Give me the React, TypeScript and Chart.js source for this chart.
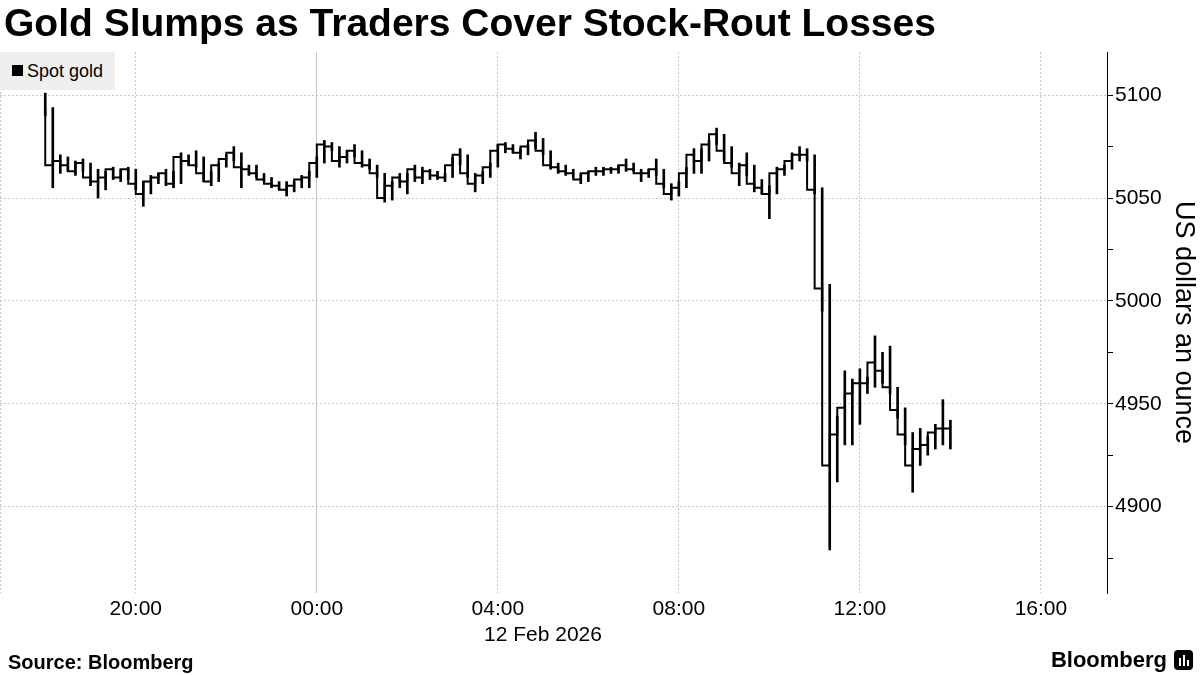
import React, { useEffect, useRef } from "react";
import { Chart, registerables } from "chart.js";

Chart.register(...registerables);

// Hours relative to 00:00 on 12 Feb 2026; bars are 10 minutes apart from 18:00 on 11 Feb
const START_HOUR = -6;
const BAR_HOURS = 1 / 6;

const highs = [
  5101, 5094, 5071, 5070, 5068, 5069, 5067, 5064, 5063, 5065,
  5064, 5065, 5064, 5058, 5061, 5062, 5064, 5063, 5072, 5071,
  5073, 5070, 5063, 5067, 5071, 5075, 5072, 5066, 5066, 5062,
  5060, 5058, 5058, 5058, 5061, 5063, 5070, 5078, 5077, 5075,
  5073, 5076, 5073, 5069, 5066, 5062, 5058, 5062, 5062, 5066,
  5065, 5064, 5063, 5062, 5070, 5074, 5071, 5062, 5063, 5067,
  5076, 5077, 5076, 5074, 5076, 5082, 5079, 5073, 5067, 5066,
  5064, 5062, 5063, 5065, 5065, 5065, 5066, 5069, 5067, 5064,
  5064, 5069, 5064, 5057, 5058, 5065, 5074, 5074, 5078, 5084,
  5081, 5075, 5067, 5072, 5066, 5059, 5056, 5065, 5066, 5072,
  5075, 5074, 5071, 5055, 5008, 4944, 4966, 4962, 4967, 4963,
  4983, 4975, 4978, 4958, 4948, 4936, 4938, 4934, 4940, 4952,
  4942,
];

const lows = [
  5090, 5055, 5062, 5063, 5061, 5063, 5056, 5050, 5054, 5059,
  5058, 5059, 5054, 5046, 5052, 5057, 5056, 5055, 5057, 5066,
  5065, 5058, 5056, 5058, 5065, 5068, 5055, 5061, 5060, 5058,
  5055, 5054, 5051, 5053, 5055, 5055, 5060, 5067, 5073, 5065,
  5067, 5070, 5065, 5064, 5060, 5048, 5049, 5055, 5052, 5058,
  5057, 5059, 5059, 5058, 5060, 5066, 5060, 5053, 5057, 5060,
  5065, 5072, 5072, 5069, 5071, 5074, 5071, 5064, 5062, 5061,
  5060, 5057, 5058, 5061, 5061, 5062, 5062, 5063, 5063, 5058,
  5060, 5061, 5055, 5049, 5051, 5055, 5062, 5062, 5068, 5076,
  5068, 5065, 5056, 5061, 5053, 5052, 5040, 5052, 5061, 5064,
  5068, 5068, 5052, 4995, 4879, 4912, 4930, 4930, 4940, 4955,
  4958, 4960, 4955, 4943, 4930, 4907, 4920, 4925, 4928, 4930,
  4928,
];

const closes = [
  5093, 5066, 5068, 5066, 5063, 5067, 5060, 5058, 5060, 5064,
  5060, 5064, 5057, 5052, 5058, 5060, 5062, 5057, 5070, 5068,
  5066, 5062, 5058, 5066, 5069, 5072, 5065, 5064, 5062, 5059,
  5057, 5056, 5054, 5056, 5059, 5060, 5067, 5076, 5075, 5068,
  5070, 5073, 5067, 5066, 5062, 5050, 5056, 5060, 5058, 5064,
  5060, 5063, 5061, 5060, 5066, 5071, 5062, 5057, 5061, 5065,
  5073, 5076, 5074, 5072, 5075, 5078, 5073, 5066, 5065, 5063,
  5062, 5059, 5062, 5063, 5063, 5064, 5064, 5066, 5064, 5062,
  5062, 5064, 5057, 5052, 5055, 5062, 5071, 5068, 5076, 5081,
  5073, 5067, 5062, 5066, 5057, 5055, 5052, 5062, 5064, 5068,
  5071, 5071, 5054, 5006, 4920, 4935, 4948, 4955, 4960, 4960,
  4970, 4966, 4958, 4947, 4935, 4920, 4928, 4930, 4936, 4938,
  4938,
];

const xTickHours = [-7, -4, 0, 4, 8, 12, 16];
const xTickLabels = ["", "20:00", "00:00", "04:00", "08:00", "12:00", "16:00"];
const dateLabel = "12 Feb 2026";
const yTickValues = [4875, 4900, 4925, 4950, 4975, 5000, 5025, 5050, 5075, 5100];

const X_MIN = -7;
const X_MAX = 17.46;
const Y_MIN = 4858;
const Y_MAX = 5121;

const FONT = "'Liberation Sans', Arial, sans-serif";
const GRID = "#c6c6c6";

export default function App() {
  const canvasRef = useRef<HTMLCanvasElement | null>(null);

  useEffect(() => {
    const canvas = canvasRef.current;
    if (!canvas) return;
    const times = closes.map((_, i) => START_HOUR + i * BAR_HOURS);
    const chart = new Chart(canvas, {
      type: "bar",
      data: {
        datasets: [
          {
            type: "line",
            data: closes.map((c, i) => ({ x: times[i], y: c })),
            borderColor: "#000",
            borderWidth: 2,
            stepped: "after",
            pointRadius: 0,
            fill: false,
            order: 0,
          } as any,
          {
            type: "bar",
            data: highs.map((h, i) => ({ x: times[i], y: [lows[i], h] })),
            backgroundColor: "#000",
            borderWidth: 0,
            barThickness: 2,
            grouped: false,
            order: 1,
          } as any,
        ],
      },
      options: {
        responsive: false,
        animation: false,
        layout: { padding: { top: 52, left: 0, right: 0, bottom: 0 } },
        plugins: {
          legend: { display: false },
          tooltip: { enabled: false },
          title: { display: false },
        },
        scales: {
          x: {
            type: "linear",
            min: X_MIN,
            max: X_MAX,
            offset: false,
            afterBuildTicks: (s: any) => {
              s.ticks = xTickHours.map((v) => ({ value: v }));
            },
            afterFit: (s: any) => {
              s.height = 82;
              s.paddingLeft = 0;
              s.paddingRight = 0;
            },
            grid: { color: GRID, lineWidth: 1, drawTicks: false, offset: false },
            border: {
              display: false,
              dash: (ctx: any) => (ctx.tick && ctx.tick.value === 0 ? [] : [2, 2]),
            },
            ticks: {
              callback: (_v: any, idx: number) => xTickLabels[idx],
              font: { family: FONT, size: 21 },
              color: "#000",
              padding: 4,
              maxRotation: 0,
              autoSkip: false,
            },
          },
          y: {
            position: "right",
            min: Y_MIN,
            max: Y_MAX,
            afterBuildTicks: (s: any) => {
              s.ticks = yTickValues.map((v) => ({ value: v }));
            },
            afterFit: (s: any) => {
              s.width = 93;
            },
            grid: {
              color: (ctx: any) => (ctx.tick && ctx.tick.value % 50 === 0 ? GRID : "rgba(0,0,0,0)"),
              tickColor: "#000",
              tickLength: 6,
              drawTicks: true,
              tickBorderDash: [],
            },
            border: { display: true, color: "#000", width: 1, dash: [2, 2] },
            ticks: {
              callback: (v: any) => (Number(v) % 50 === 0 ? String(v) : ""),
              font: { family: FONT, size: 21 },
              color: "#000",
              padding: 2,
              autoSkip: false,
            },
            title: {
              display: true,
              text: "US dollars an ounce",
              font: { family: FONT, size: 27 },
              color: "#000",
              padding: 0,
            },
          },
        },
      } as any,
    });
    return () => chart.destroy();
  }, []);

  return (
    <div
      style={{
        position: "absolute",
        left: 0,
        top: 0,
        width: 1200,
        height: 675,
        background: "#fff",
        overflow: "hidden",
        fontFamily: FONT,
        color: "#000",
      }}
    >
      <canvas ref={canvasRef} width={1200} height={675} style={{ position: "absolute", left: 0, top: 0 }} />
      <div
        style={{
          position: "absolute",
          left: 4,
          top: 4,
          fontSize: 39,
          lineHeight: "38px",
          fontWeight: 700,
          whiteSpace: "nowrap",
        }}
      >
        Gold Slumps as Traders Cover Stock-Rout Losses
      </div>
      <div
        style={{
          position: "absolute",
          left: 0,
          top: 52,
          width: 115,
          height: 38,
          background: "#efefef",
        }}
      >
        <div style={{ position: "absolute", left: 12, top: 13, width: 11, height: 11, background: "#000" }} />
        <div style={{ position: "absolute", left: 27, top: 10, fontSize: 18, lineHeight: "18px", whiteSpace: "nowrap" }}>
          Spot gold
        </div>
      </div>
      <div
        style={{
          position: "absolute",
          left: 443,
          width: 200,
          top: 622,
          fontSize: 21,
          lineHeight: "24px",
          textAlign: "center",
          whiteSpace: "nowrap",
        }}
      >
        {dateLabel}
      </div>
      <div
        style={{
          position: "absolute",
          left: 8,
          top: 653,
          fontSize: 20,
          lineHeight: "19px",
          fontWeight: 700,
          whiteSpace: "nowrap",
        }}
      >
        Source: Bloomberg
      </div>
      <div
        style={{
          position: "absolute",
          right: 33,
          top: 649,
          fontSize: 22,
          lineHeight: "22px",
          fontWeight: 700,
          whiteSpace: "nowrap",
        }}
      >
        Bloomberg
      </div>
      <div
        style={{
          position: "absolute",
          left: 1174,
          top: 650,
          width: 19,
          height: 20,
          background: "#000",
          borderRadius: 4,
        }}
      >
        <div style={{ position: "absolute", left: 5, top: 8, width: 2, height: 8, background: "#fff" }} />
        <div style={{ position: "absolute", left: 9, top: 5, width: 2, height: 11, background: "#fff" }} />
        <div style={{ position: "absolute", left: 13, top: 10, width: 2, height: 6, background: "#fff" }} />
      </div>
    </div>
  );
}
